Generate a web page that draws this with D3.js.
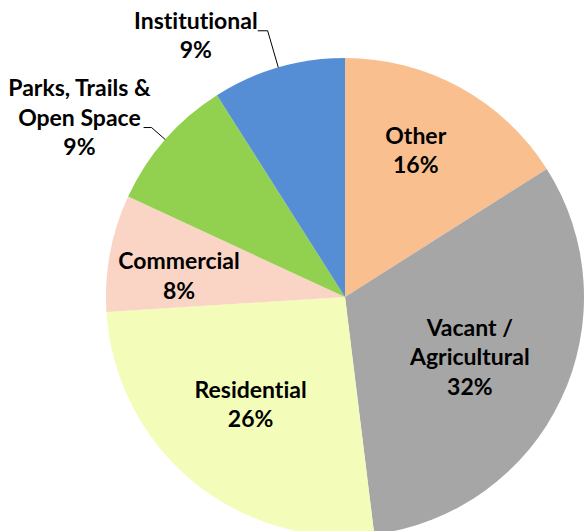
<!DOCTYPE html>
<html>
<head>
<meta charset="utf-8">
<script src="https://cdn.jsdelivr.net/npm/d3@7"></script>
<style>
  html, body { margin: 0; padding: 0; background: #fff; }
  svg { display: block; }
  text { font-variant-ligatures: none; }
</style>
</head>
<body>
<svg id="chart" width="587" height="531"></svg>
<script>
// land use shares, clockwise from 12 o'clock
const categories = ["Other", "Vacant /\nAgricultural", "Residential", "Commercial", "Parks, Trails &\nOpen Space", "Institutional"];
const shares = [16.0, 32.05, 25.95, 7.9, 9.1, 9.0];
const pctLabels = ["16%", "32%", "26%", "8%", "9%", "9%"];
const colors = ["#F9BF8F", "#A6A6A6", "#F3FDB9", "#FAD5C5", "#92D050", "#558ED5"];

// label placement: inside labels sit near the mid angle at rf*radius,
// outside ones get a leader line to an elbow at rf*radius
const labelLayout = [
  { rf: 0.68, da: -3 },
  { rf: 0.58, da: 0.5 },
  { rf: 0.60, da: 1.5 },
  { rf: 0.70, da: -3.5 },
  { rf: 1.076, out: true, lineAt: 1, gap: -7, hook: 8 },
  { rf: 1.16, out: true, lineAt: 0, gap: 0, hook: 10 }
];

const svg = d3.select("#chart");
const cx = 345, cy = 297, radius = 239;
const fontSize = 23, lineH = 29.5;

const g = svg.append("g").attr("transform", `translate(${cx},${cy})`);

const pie = d3.pie().sort(null).value(d => d.v);
const arc = d3.arc().innerRadius(0).outerRadius(radius);

const rows = categories.map((c, i) => ({ name: c, v: shares[i], pct: pctLabels[i], color: colors[i], lay: labelLayout[i] }));
const arcs = pie(rows);

g.selectAll("path.slice")
  .data(arcs)
  .join("path")
  .attr("class", "slice")
  .attr("d", arc)
  .attr("fill", d => d.data.color);

const polar = (ang, r) => [Math.sin(ang) * r, -Math.cos(ang) * r];

arcs.forEach(d => {
  const lay = d.data.lay;
  const mid = (d.startAngle + d.endAngle) / 2;
  const lines = d.data.name.split("\n").concat([d.data.pct]);

  const txt = g.append("text")
    .attr("font-family", "Lato, 'Open Sans', sans-serif")
    .attr("font-weight", 700)
    .attr("font-size", fontSize)
    .attr("fill", "#000")
    .attr("text-anchor", "middle");
  lines.forEach((s, i) => txt.append("tspan").attr("x", 0).attr("dy", i === 0 ? 0 : lineH).text(s));

  if (!lay.out) {
    const [x, y] = polar(mid + lay.da * Math.PI / 180, radius * lay.rf);
    // vertically center the block on its cap height
    const top = y - ((lines.length - 1) * lineH + fontSize * 0.68) / 2;
    txt.attr("transform", `translate(${x},${top + fontSize * 0.68})`);
  } else {
    const [ax, ay] = polar(mid, radius);
    const [ex, ey] = polar(mid, radius * lay.rf);
    const hx = ex - lay.hook;
    g.append("path")
      .attr("d", d3.line()([[ax, ay], [ex, ey], [hx, ey]]))
      .attr("fill", "none")
      .attr("stroke", "#000")
      .attr("stroke-width", 1);
    const w = d3.max(txt.selectAll("tspan").nodes(), n => n.getComputedTextLength());
    const tx = hx - lay.gap - w / 2;
    const baseline0 = ey - 2 - lay.lineAt * lineH;
    txt.attr("transform", `translate(${tx},${baseline0})`);
  }
});
</script>
</body>
</html>
